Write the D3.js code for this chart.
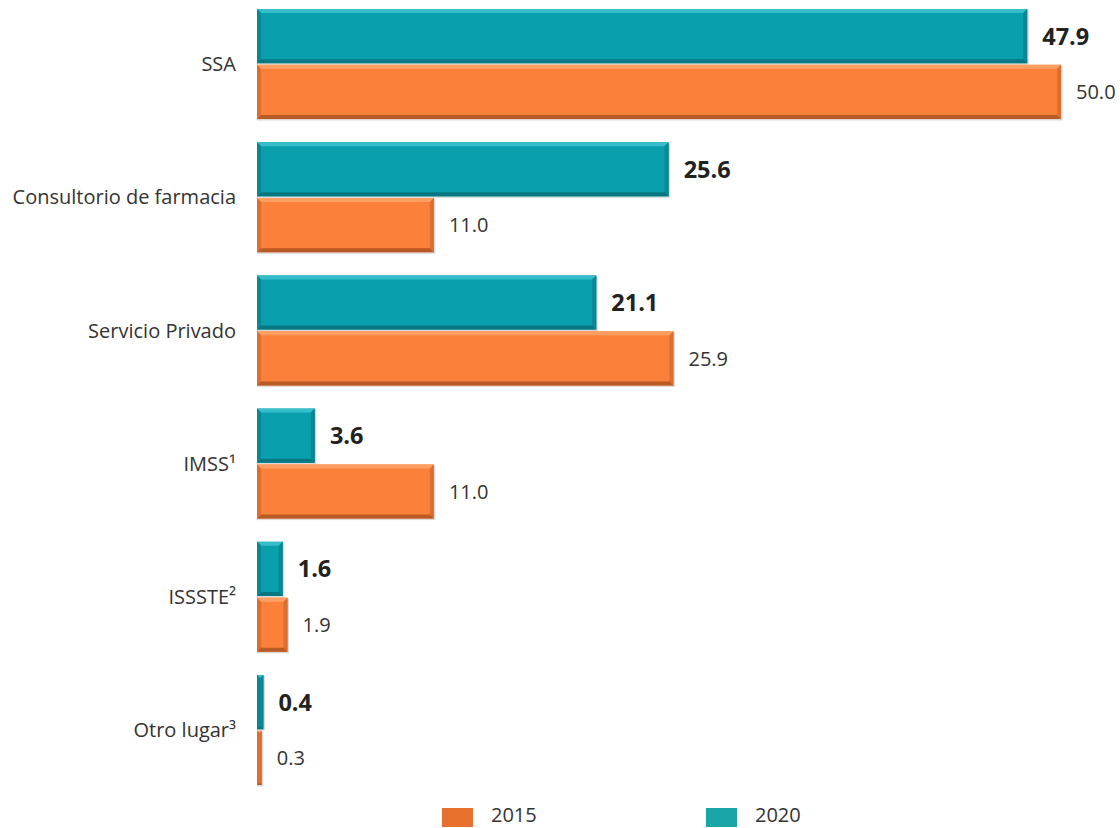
<!DOCTYPE html>
<html><head><meta charset="utf-8">
<script src="https://cdn.jsdelivr.net/npm/d3@7/dist/d3.min.js"></script>
<style>body{margin:0;background:#fff;}svg{display:block;font-family:"Open Sans","Noto Sans",sans-serif;}</style>
</head><body>
<svg id="c" width="1120" height="828"></svg>
<script>
const categories = ["SSA","Consultorio de farmacia","Servicio Privado","IMSS\u00B9","ISSSTE\u00B2","Otro lugar\u00B3"];
const years = ["2020","2015"];
const values2020 = [47.9,25.6,21.1,3.6,1.6,0.4];
const values2015 = [50.0,11.0,25.9,11.0,1.9,0.3];
const legendLabels = ["2015","2020"];

const svg = d3.select("#c");
const x = d3.scaleLinear().domain([0,50]).range([257,1061]);
const y = d3.scaleBand().domain(categories).range([-2.6,796.6]).paddingInner(0.174).paddingOuter(0.087);
const ys = d3.scaleBand().domain(years).range([0,y.bandwidth()]).paddingInner(0.03);

const colors = {
  "2020": {main:"#0a9fad", light:"#35bdc9", dark:"#0a8793", darker:"#077781"},
  "2015": {main:"#fb803a", light:"#fd9f62", dark:"#de6d2f", darker:"#b95a24"}
};
const legendColors = {"2015":"#e8702e","2020":"#1aa6a8"};

const data = [];
categories.forEach((c,i)=>{
  data.push({cat:c, year:"2020", v:values2020[i]});
  data.push({cat:c, year:"2015", v:values2015[i]});
});

const g = svg.append("g");
data.forEach(d=>{
  const x0 = x(0), x1 = x(d.v);
  const y0 = y(d.cat)+ys(d.year), y1 = y0+ys.bandwidth();
  const col = colors[d.year];
  const b = Math.min(4, (x1-x0)/2);
  const bar = g.append("g");
  bar.append("rect").attr("x",x0).attr("y",y0+1).attr("width",x1-x0+1.5).attr("height",y1-y0+0.5)
    .attr("fill","#000").attr("opacity",0.15);
  bar.append("rect").attr("x",x0).attr("y",y0).attr("width",x1-x0).attr("height",y1-y0).attr("fill",col.main);
  bar.append("polygon").attr("points",[[x0,y0],[x1,y0],[x1-b,y0+b],[x0+b,y0+b]].join(" ")).attr("fill",col.light);
  bar.append("polygon").attr("points",[[x0,y0],[x0+b,y0+b],[x0+b,y1-b],[x0,y1]].join(" ")).attr("fill",col.dark);
  bar.append("polygon").attr("points",[[x1,y0],[x1,y1],[x1-b,y1-b],[x1-b,y0+b]].join(" ")).attr("fill",col.dark);
  bar.append("polygon").attr("points",[[x0,y1],[x0+b,y1-b],[x1-b,y1-b],[x1,y1]].join(" ")).attr("fill",col.darker);
  const t = g.append("text").attr("x",x1+15).attr("y",(y0+y1)/2)
    .attr("dy","0.36em").attr("fill", d.year==="2020" ? "#222" : "#333")
    .text(d.v.toFixed(1));
  if (d.year==="2020") t.attr("font-weight","bold").attr("font-size",23.5);
  else t.attr("font-size",20);
});

g.selectAll("text.cat").data(categories).join("text").attr("class","cat")
  .attr("x",236).attr("y",c=>y(c)+y.bandwidth()/2).attr("dy","0.36em")
  .attr("text-anchor","end").attr("font-size",20).attr("fill","#333").text(c=>c);

const lx = d3.scaleOrdinal().domain(legendLabels).range([442,706]);
const lg = svg.append("g");
legendLabels.forEach(l=>{
  lg.append("rect").attr("x",lx(l)).attr("y",808).attr("width",31).attr("height",19).attr("fill",legendColors[l]);
  lg.append("text").attr("x",lx(l)+49).attr("y",822).attr("font-size",20).attr("fill","#333").text(l);
});
</script>
</body></html>
